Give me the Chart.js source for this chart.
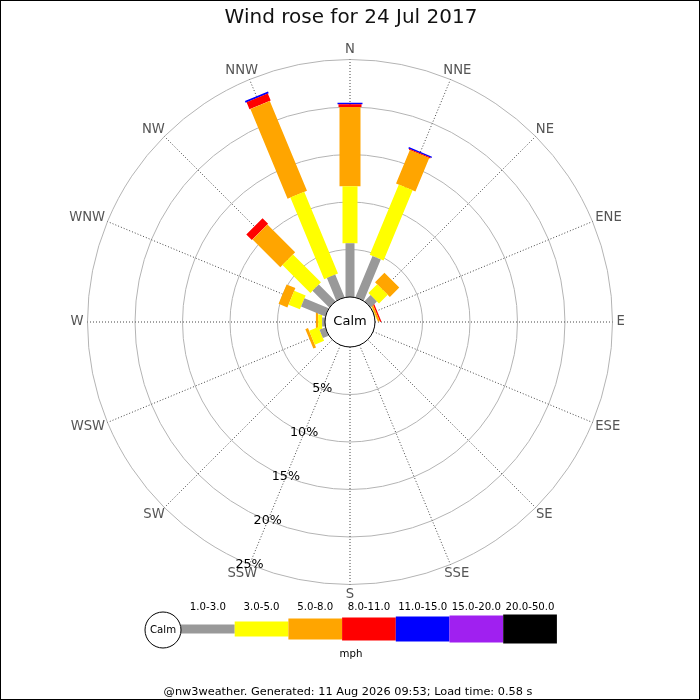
<!DOCTYPE html>
<html>
<head>
<meta charset="utf-8">
<script src="https://cdn.jsdelivr.net/npm/chart.js@4.4.1/dist/chart.umd.min.js"></script>
<style>
html, body { margin: 0; padding: 0; background: #fff; }
#wrap { width: 700px; height: 700px; }
</style>
</head>
<body>
<div id="wrap"><canvas id="myChart"></canvas></div>
<script>
'use strict'
const directions = ['N', 'NNE', 'NE', 'ENE', 'E', 'ESE', 'SE', 'SSE', 'S', 'SSW', 'SW', 'WSW', 'W', 'WNW', 'NW', 'NNW'];
const speedBands = ['1.0-3.0', '3.0-5.0', '5.0-8.0', '8.0-11.0', '11.0-15.0', '15.0-20.0', '20.0-50.0'];
const bandColours = ['#999999', '#ffff00', '#ffa500', '#ff0000', '#0000ff', '#a020f0', '#000000'];
const bandWidths = [9, 15, 21, 23, 25, 27, 29];
const ringTicks = [5, 10, 15, 20, 25];
const tickLabels = ['5%', '10%', '15%', '20%', '25%'];

// % of the day in each direction, one array per speed band (N first, clockwise)
const band1to3 = [5.67, 4.7, 0.9, 0.05, 0, 0, 0, 0, 0, 0, 0, 0.65, 0.3, 2.75, 2.48, 2.58];
const band3to5 = [5.99, 8.0, 1.3, 0.05, 0, 0, 0, 0, 0, 0, 0, 1.05, 0.42, 1.3, 4.16, 9.29];
const band5to8 = [8.34, 3.8, 1.4, 0.2, 0, 0, 0, 0, 0, 0, 0, 0.3, 0.24, 1.0, 4.13, 10.23];
const band8to11 = [0.28, 0.1, 0, 0.15, 0, 0, 0, 0, 0, 0, 0, 0, 0, 0, 0.83, 0.8];
const band11to15 = [0.18, 0.15, 0, 0, 0, 0, 0, 0, 0, 0, 0, 0, 0, 0, 0, 0.2];
const band15to20 = [0, 0, 0, 0, 0, 0, 0, 0, 0, 0, 0, 0, 0, 0, 0, 0];
const band20to50 = [0, 0, 0, 0, 0, 0, 0, 0, 0, 0, 0, 0, 0, 0, 0, 0];
const bandValues = [band1to3, band3to5, band5to8, band8to11, band11to15, band15to20, band20to50];

const calmRadius = 2.63; // calm circle, in % units
const outer = 25 + calmRadius;
const font = 'DejaVu Sans';

// build the bar segments for each speed band
let running = directions.map(() => calmRadius);
let datasets = [];
for (let b = 0; b < speedBands.length; b++) {
    let pts = [];
    for (let i = 0; i < directions.length; i++) {
        let v = bandValues[b][i];
        if (v <= 0) continue;
        let a = i * Math.PI / 8;
        let r0 = running[i];
        let r1 = r0 + v;
        pts.push({ x: r0 * Math.sin(a), y: r0 * Math.cos(a) });
        pts.push({ x: r1 * Math.sin(a), y: r1 * Math.cos(a) });
        pts.push({ x: NaN, y: NaN });
        running[i] = r1;
    }
    datasets.push({
        label: speedBands[b],
        data: pts,
        showLine: true,
        spanGaps: false,
        borderColor: bandColours[b],
        borderWidth: bandWidths[b],
        borderCapStyle: 'butt',
        // a solid "dash" keeps chart.js off its fast path, which merges short near-vertical segments
        borderDash: [2000, 0],
        pointRadius: 0
    });
}

const roseDecor = {
    id: 'roseDecor',
    beforeDatasetsDraw(chart) {
        let ctx = chart.ctx;
        let xs = chart.scales.x, ys = chart.scales.y;
        let cx = xs.getPixelForValue(0), cy = ys.getPixelForValue(0);
        let k = xs.getPixelForValue(1) - cx;
        ctx.save();
        ctx.strokeStyle = '#b4b4b4';
        ctx.lineWidth = 1;
        for (let t of ringTicks) {
            ctx.beginPath();
            ctx.arc(cx, cy, (t + calmRadius) * k, 0, Math.PI * 2);
            ctx.stroke();
        }
        ctx.strokeStyle = '#444';
        ctx.setLineDash([1, 2]);
        for (let i = 0; i < directions.length; i++) {
            let a = i * Math.PI / 8;
            ctx.beginPath();
            ctx.moveTo(cx + calmRadius * k * Math.sin(a), cy - calmRadius * k * Math.cos(a));
            ctx.lineTo(cx + outer * k * Math.sin(a), cy - outer * k * Math.cos(a));
            ctx.stroke();
        }
        ctx.restore();
    },
    afterDatasetsDraw(chart) {
        let ctx = chart.ctx;
        let xs = chart.scales.x, ys = chart.scales.y;
        let cx = xs.getPixelForValue(0), cy = ys.getPixelForValue(0);
        let k = xs.getPixelForValue(1) - cx;
        ctx.save();
        // calm circle
        ctx.beginPath();
        ctx.arc(cx, cy, calmRadius * k, 0, Math.PI * 2);
        ctx.fillStyle = '#fff';
        ctx.fill();
        ctx.strokeStyle = '#000';
        ctx.lineWidth = 1;
        ctx.stroke();
        ctx.fillStyle = '#000';
        ctx.textAlign = 'center';
        ctx.textBaseline = 'middle';
        ctx.font = '13px "' + font + '"';
        ctx.fillText('Calm', cx, cy);

        // direction labels
        ctx.fillStyle = '#555';
        ctx.font = '13.2px "' + font + '"';
        for (let i = 0; i < directions.length; i++) {
            let a = i * Math.PI / 8;
            let w = ctx.measureText(directions[i]).width;
            let r = outer * k + 4;
            let x = cx + r * Math.sin(a) + (w / 2) * Math.sin(a);
            let y = cy - r * Math.cos(a) - 6 * Math.cos(a);
            ctx.fillText(directions[i], x, y);
        }

        // ring labels along SSW
        ctx.fillStyle = '#000';
        ctx.font = '12.7px "' + font + '"';
        let la = 9 * Math.PI / 8;
        for (let j = 0; j < ringTicks.length; j++) {
            let r = (ringTicks[j] + calmRadius) * k;
            ctx.fillText(tickLabels[j], cx + r * Math.sin(la), cy - r * Math.cos(la));
        }
        ctx.restore();
    },
    afterDraw(chart) {
        let ctx = chart.ctx;
        ctx.save();
        ctx.fillStyle = '#111';
        ctx.textAlign = 'center';
        ctx.textBaseline = 'alphabetic';
        ctx.font = '20px "' + font + '"';
        ctx.fillText('Wind rose for 24 Jul 2017', 351, 23);

        // key
        let keyY = 629;
        let boxW = 53.7;
        let x0 = 181;
        ctx.textBaseline = 'middle';
        for (let b = 0; b < speedBands.length; b++) {
            let x = x0 + b * boxW;
            ctx.fillStyle = bandColours[b];
            ctx.fillRect(x, keyY - bandWidths[b] / 2, boxW, bandWidths[b]);
            ctx.fillStyle = '#000';
            ctx.font = '10.2px "' + font + '"';
            ctx.fillText(speedBands[b], x + boxW / 2, 607);
        }
        ctx.beginPath();
        ctx.arc(163, 630, 18, 0, Math.PI * 2);
        ctx.fillStyle = '#fff';
        ctx.fill();
        ctx.strokeStyle = '#000';
        ctx.lineWidth = 1;
        ctx.stroke();
        ctx.fillStyle = '#000';
        ctx.fillText('Calm', 163, 630);
        ctx.fillText('mph', 351, 654);

        ctx.font = '11.3px "' + font + '"';
        ctx.fillText('@nw3weather. Generated: 11 Aug 2026 09:53; Load time: 0.58 s', 348, 692);

        ctx.strokeStyle = '#000';
        ctx.strokeRect(0.5, 0.5, 699, 699);
        ctx.restore();
    }
};

let ctx = document.getElementById('myChart');
let myChart = new Chart(ctx, {
    type: 'scatter',
    data: { datasets: datasets },
    options: {
        responsive: true,
        maintainAspectRatio: false,
        animation: false,
        events: [],
        layout: { padding: { left: 87.5, right: 87.5, top: 59.5, bottom: 115.5 } },
        scales: {
            x: { type: 'linear', min: -outer, max: outer, display: false },
            y: { type: 'linear', min: -outer, max: outer, display: false }
        },
        plugins: {
            legend: { display: false },
            tooltip: { enabled: false },
            title: { display: false }
        }
    },
    plugins: [roseDecor]
});
</script>
</body>
</html>
